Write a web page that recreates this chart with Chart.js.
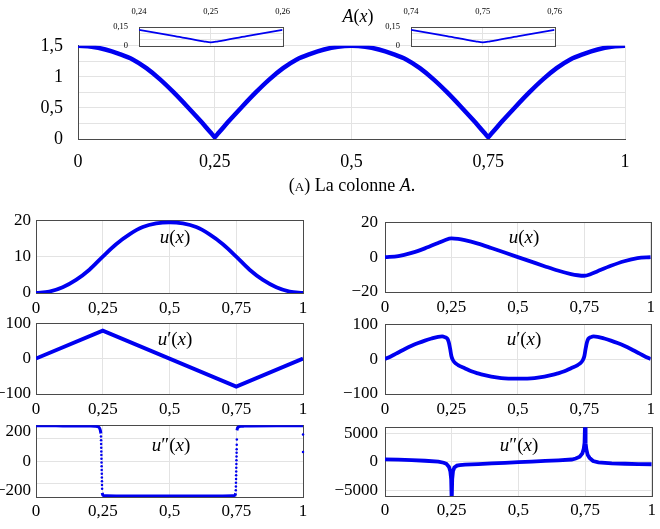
<!DOCTYPE html>
<html><head><meta charset="utf-8">
<script src="https://cdn.jsdelivr.net/npm/chart.js@4.4.1/dist/chart.umd.min.js"></script>
<style>
html,body{margin:0;padding:0;background:#fff;}
#wrap{position:relative;width:660px;height:529px;overflow:hidden;background:#fff;}
canvas{position:absolute;}
.lbl{position:absolute;font-family:'Liberation Serif',serif;color:#000;white-space:nowrap;transform:translate(-50%,-50%);line-height:1;}
.sc{font-variant:small-caps;}
</style></head><body><div id="wrap"></div>
<script>
// ---------- data ----------
const xTicks = [0, 0.25, 0.5, 0.75, 1];
const aTicksY = [0, 0.25, 0.5, 0.75, 1, 1.25, 1.5];
const aLabelsY = [0, 0.5, 1, 1.5];
const insetTicksL = [0.24, 0.25, 0.26];
const insetTicksR = [0.74, 0.75, 0.76];
const insetTicksY = [0, 0.05, 0.1, 0.15];
const insetLabelsY = [0, 0.15];

const aX = [0,0.025,0.05,0.075,0.1,0.125,0.15,0.175,0.2,0.225,0.24,0.245,0.249,0.25,0.251,0.255,0.26,0.275,0.3,0.325,0.35,0.375,0.4,0.425,0.45,0.475,0.5,
            0.525,0.55,0.575,0.6,0.625,0.65,0.675,0.7,0.725,0.74,0.745,0.749,0.75,0.751,0.755,0.76,0.775,0.8,0.825,0.85,0.875,0.9,0.925,0.95,0.975,1];
const aY = [1.50,1.485,1.44,1.37,1.28,1.14,0.96,0.75,0.52,0.28,0.128,0.078,0.036,0.028,0.036,0.078,0.128,0.28,0.52,0.75,0.96,1.14,1.28,1.37,1.44,1.485,1.50,
            1.485,1.44,1.37,1.28,1.14,0.96,0.75,0.52,0.28,0.128,0.078,0.036,0.028,0.036,0.078,0.128,0.28,0.52,0.75,0.96,1.14,1.28,1.37,1.44,1.485,1.50];

const uLX = [0,0.05,0.1,0.15,0.2,0.25,0.3,0.35,0.4,0.45,0.5,0.55,0.6,0.65,0.7,0.75,0.8,0.85,0.9,0.95,1];
const uL  = [0,0.4,1.6,3.6,6.4,10.0,13.4,16.1,18.1,19.1,19.4,19.1,18.1,16.1,13.4,10.0,6.4,3.6,1.6,0.4,0];
const uLTicks = [0, 10, 20];

const uRX = [0,0.05,0.1,0.15,0.2,0.225,0.25,0.275,0.3,0.35,0.4,0.45,0.5,0.55,0.6,0.65,0.7,0.725,0.75,0.775,0.8,0.85,0.9,0.95,1];
const uR  = [0,0.6,2.4,5.0,8.1,9.7,10.7,10.4,9.7,7.7,5.2,2.6,0,-2.6,-5.2,-7.7,-9.7,-10.4,-10.7,-9.7,-8.1,-5.0,-2.4,-0.6,0];
const uRTicks = [-20, 0, 20];

const duLX = [0,0.25,0.75,1];
const duL  = [0,79,-79,0];
const duTicks = [-100, 0, 100];

const duRX = [0,0.025,0.05,0.075,0.1,0.125,0.15,0.175,0.2,0.215,0.225,0.235,0.24,0.245,0.25,0.255,0.26,0.275,0.3,0.325,0.35,0.375,0.4,0.425,0.45,0.475,0.5,
              0.525,0.55,0.575,0.6,0.625,0.65,0.675,0.7,0.725,0.74,0.745,0.75,0.755,0.76,0.765,0.775,0.785,0.8,0.825,0.85,0.875,0.9,0.925,0.95,0.975,1];
const duR  = [0,9,19,29,38,46,53,59,64,65,63,58,48,30,8,-2,-8,-17,-26,-35,-41,-46,-50,-53,-55,-56,-56,
              -56,-55,-53,-50,-46,-41,-35,-26,-17,-8,-2,8,30,48,58,63,65,64,59,53,46,38,29,19,9,0];

const d2LAx = [0,0.05,0.1,0.15,0.2,0.22,0.23,0.235,0.238,0.241,0.243];
const d2LA  = [236,236,235,235,234,233,231,227,220,205,185];
const d2LBx = [0.248,0.25,0.255,0.265,0.3,0.4,0.5,0.6,0.7,0.735,0.745,0.748];
const d2LB  = [-212,-226,-231,-232,-233,-233,-233,-233,-233,-232,-228,-215];
const d2LCx = [0.7525,0.755,0.758,0.765,0.78,0.8,0.9,1];
const d2LC  = [205,222,228,232,234,235,236,236];
const d2LDotX = [0.2433,0.2437,0.244,0.2443,0.2446,0.2449,0.2452,0.2455,0.2458,0.2461,0.2464,0.2467,0.247,0.2473,0.2476,
                 0.7483,0.7486,0.7489,0.7492,0.7495,0.7498,0.7501,0.7504,0.7507,0.751,0.7513,0.7516,0.7519,0.7522,1,1];
const d2LDot  = [165,140,115,90,65,40,15,-10,-35,-60,-85,-110,-135,-160,-185,
                 -195,-170,-145,-120,-95,-70,-45,-20,5,30,55,80,110,145,178,61];
const d2LTicks = [-200, -150, 0, 150, 200];
const d2LGrid = [-150, 0, 150];
const d2LLabels = [-200, 0, 200];

const d2RX = [0,0.05,0.1,0.15,0.2,0.22,0.23,0.24,0.245,0.248,0.25,0.252,0.255,0.26,0.27,0.28,0.3,0.35,0.4,0.45,0.5,0.55,0.6,0.65,0.7,0.715,0.73,0.74,0.745,0.748,0.75,0.752,0.755,0.76,0.767,0.78,0.8,0.85,0.9,0.95,1];
const d2R  = [440,380,300,200,40,-150,-350,-900,-1700,-3000,-7000,-3000,-1600,-1000,-660,-560,-480,-380,-280,-170,-50,60,160,270,420,600,900,1500,2300,3300,7000,3300,2200,1200,700,150,-100,-270,-330,-380,-420];
const d2RTicks = [-5000, 0, 5000];

// ---------- helpers ----------
const FONT = "'Liberation Serif', serif";
const BLUE = 'rgb(0,0,240)';
const GRID = '#e3e3e3';
const AXIS = '#4a4a4a';
const wrap = document.getElementById('wrap');

function fmt(v){
  const r = Math.round(v*10000)/10000;
  let s = Math.abs(r).toString().replace('.', ',');
  return (r < 0 ? '\u2212' : '') + s;
}
function pts(xs, ys){ return xs.map((x,i)=>({x:x, y:ys[i]})); }
function line(xs, ys, w, mono){
  return {data: pts(xs, ys), borderColor: BLUE, borderWidth: w, pointRadius: 0, fill: false,
          cubicInterpolationMode: mono ? 'monotone' : 'default', tension: 0};
}
function dots(xs, ys){
  return {data: pts(xs, ys), showLine: false, pointRadius: 1.25, pointBorderWidth: 0,
          pointBackgroundColor: BLUE, borderColor: BLUE, clip: false};
}

const boxPlugin = {
  id: 'box',
  beforeDraw(chart, args, o){
    if (o && o.fill){
      const a = chart.chartArea, c = chart.ctx;
      c.save(); c.fillStyle = o.fill; c.fillRect(a.left, a.top, a.right-a.left, a.bottom-a.top); c.restore();
    }
  },
  beforeDatasetsDraw(chart, args, o){
    if (o && o.stroke){
      const a = chart.chartArea, c = chart.ctx;
      c.save(); c.strokeStyle = o.stroke; c.lineWidth = 1;
      c.strokeRect(Math.round(a.left)+0.5, Math.round(a.top)+0.5, Math.round(a.right-a.left), Math.round(a.bottom-a.top));
      c.restore();
    }
  }
};

function makeChart(p){
  const c = document.createElement('canvas');
  c.width = p.w; c.height = p.h;
  c.style.left = p.l+'px'; c.style.top = p.t+'px'; c.style.width = p.w+'px'; c.style.height = p.h+'px';
  wrap.appendChild(c);
  const xGrid = p.xGrid || p.xTicks, yGrid = p.yGrid || p.yTicks, yLab = p.yLabels || p.yTicks;
  return new Chart(c, {
    type: 'line',
    data: {datasets: p.datasets},
    options: {
      responsive: false, animation: false, devicePixelRatio: 1, events: [],
      layout: {padding: {top: p.pt||0, right: p.pr||0, bottom: p.pb||0, left: 0}},
      plugins: {legend: {display: false}, tooltip: {enabled: false}, box: p.box || {}},
      scales: {
        x: {type: 'linear', position: p.xPos || 'bottom', min: p.xMin, max: p.xMax,
            afterBuildTicks: s => { s.ticks = p.xTicks.map(v => ({value: v})); },
            afterFit: s => { s.height = p.xH; },
            ticks: {callback: v => fmt(v), font: {family: FONT, size: p.xfs || p.fs}, color: '#000',
                    padding: p.xPad, maxRotation: 0, minRotation: 0, autoSkip: false},
            grid: {drawTicks: false, lineWidth: 1,
                   color: ctx => (ctx.tick && xGrid.includes(ctx.tick.value)) ? GRID : 'rgba(0,0,0,0)'},
            border: {display: !!p.axisBorder, color: AXIS, width: 1}},
        y: {type: 'linear', min: p.yMin, max: p.yMax,
            afterBuildTicks: s => { s.ticks = p.yTicks.map(v => ({value: v})); },
            afterFit: s => { s.width = p.yW; },
            ticks: {callback: v => yLab.includes(v) ? fmt(v) : '', font: {family: FONT, size: p.fs}, color: '#000',
                    padding: p.yPad, autoSkip: false},
            grid: {drawTicks: false, lineWidth: 1,
                   color: ctx => (ctx.tick && yGrid.includes(ctx.tick.value)) ? GRID : 'rgba(0,0,0,0)'},
            border: {display: !!p.axisBorder, color: AXIS, width: 1}}
      }
    },
    plugins: [boxPlugin]
  });
}

// ---------- top chart A(x) ----------
makeChart({l:0, t:20, w:660, h:165, pt:15, pr:35, yW:78, xH:46, fs:18, xPad:12, yPad:15,
  xMin:0, xMax:1, xTicks: xTicks, yMin:0, yMax:1.5, yTicks: aTicksY, yLabels: aLabelsY, axisBorder: true,
  datasets: [line(aX, aY, 4.5, true)]});

// insets
function inset(l, ticks){
  makeChart({l:l, t:0, w:200, h:62, pt:0, pr:10, pb:8, yW:39, xH:27, fs:8.5, xPad:10, yPad:11, xPos:'top',
    xMin: ticks[0], xMax: ticks[2], xTicks: ticks, xGrid: [ticks[1]],
    yMin:0, yMax:0.15, yTicks: insetTicksY, yGrid: [0.05, 0.1], yLabels: insetLabelsY,
    box: {fill: '#fff', stroke: AXIS},
    datasets: [line(aX, aY, 1.8, true)]});
}
inset(100, insetTicksL);
inset(372, insetTicksR);

// ---------- lower charts ----------
const L = {l:0, w:320, yW:36, pr:17, fs:17, yPad:5};
const R = {l:330, w:330, yW:55, pr:7, fs:17, yPad:7};
function lower(col, row, extra){
  makeChart(Object.assign({}, col, row, {xMin:0, xMax:1, xTicks: xTicks, box: {stroke: AXIS}}, extra));
}
const rowU  = {t:205, h:113, pt:14, xH:25, xPad:5};
const rowD  = {t:308, h:111, pt:14, xH:25, xPad:5};
const rowD2 = {t:410, h:112, pt:12, xH:25, xPad:4};

lower(L, rowU, {yMin:0, yMax:20, yTicks: uLTicks, datasets: [line(uLX, uL, 3.8, true)]});
lower(R, Object.assign({}, rowU, {h:112}), {yMin:-20, yMax:20, yTicks: uRTicks, datasets: [line(uRX, uR, 3.8, true)]});
lower(L, rowD, {yMin:-100, yMax:100, yTicks: duTicks, datasets: [line(duLX, duL, 3.8, false)]});
lower(R, Object.assign({}, rowD, {t:307, h:112}), {yMin:-100, yMax:100, yTicks: duTicks, datasets: [line(duRX, duR, 3.8, true)]});
lower(L, rowD2, {yMin:-240, yMax:240, yTicks: d2LTicks, yGrid: d2LGrid, yLabels: d2LLabels,
  datasets: [line(d2LAx, d2LA, 3, true), line(d2LBx, d2LB, 3, true), line(d2LCx, d2LC, 3, true), dots(d2LDotX, d2LDot)]});
lower(R, Object.assign({}, rowD2, {h:111}), {yMin:-6000, yMax:6100, yTicks: d2RTicks,
  datasets: [line(d2RX, d2R, 3.8, false)]});

// ---------- text ----------
const labels = [
  ['<i>A</i>(<i>x</i>)', 358, 16, 18],
  ['<span class="sc">(a)</span> La colonne <i>A</i>.', 352, 185, 18],
  ['<i>u</i>(<i>x</i>)', 175, 236, 19],
  ['<i>u</i>(<i>x</i>)', 524, 236, 19],
  ['<i>u</i>\u2032(<i>x</i>)', 175, 338, 19],
  ['<i>u</i>\u2032(<i>x</i>)', 524, 338, 19],
  ['<i>u</i>\u2033(<i>x</i>)', 171, 444, 19],
  ['<i>u</i>\u2033(<i>x</i>)', 519, 444, 19]
];
labels.forEach(([h, x, y, s]) => {
  const d = document.createElement('div');
  d.className = 'lbl'; d.innerHTML = h;
  d.style.left = x+'px'; d.style.top = y+'px'; d.style.fontSize = s+'px';
  wrap.appendChild(d);
});
</script>
</body></html>
